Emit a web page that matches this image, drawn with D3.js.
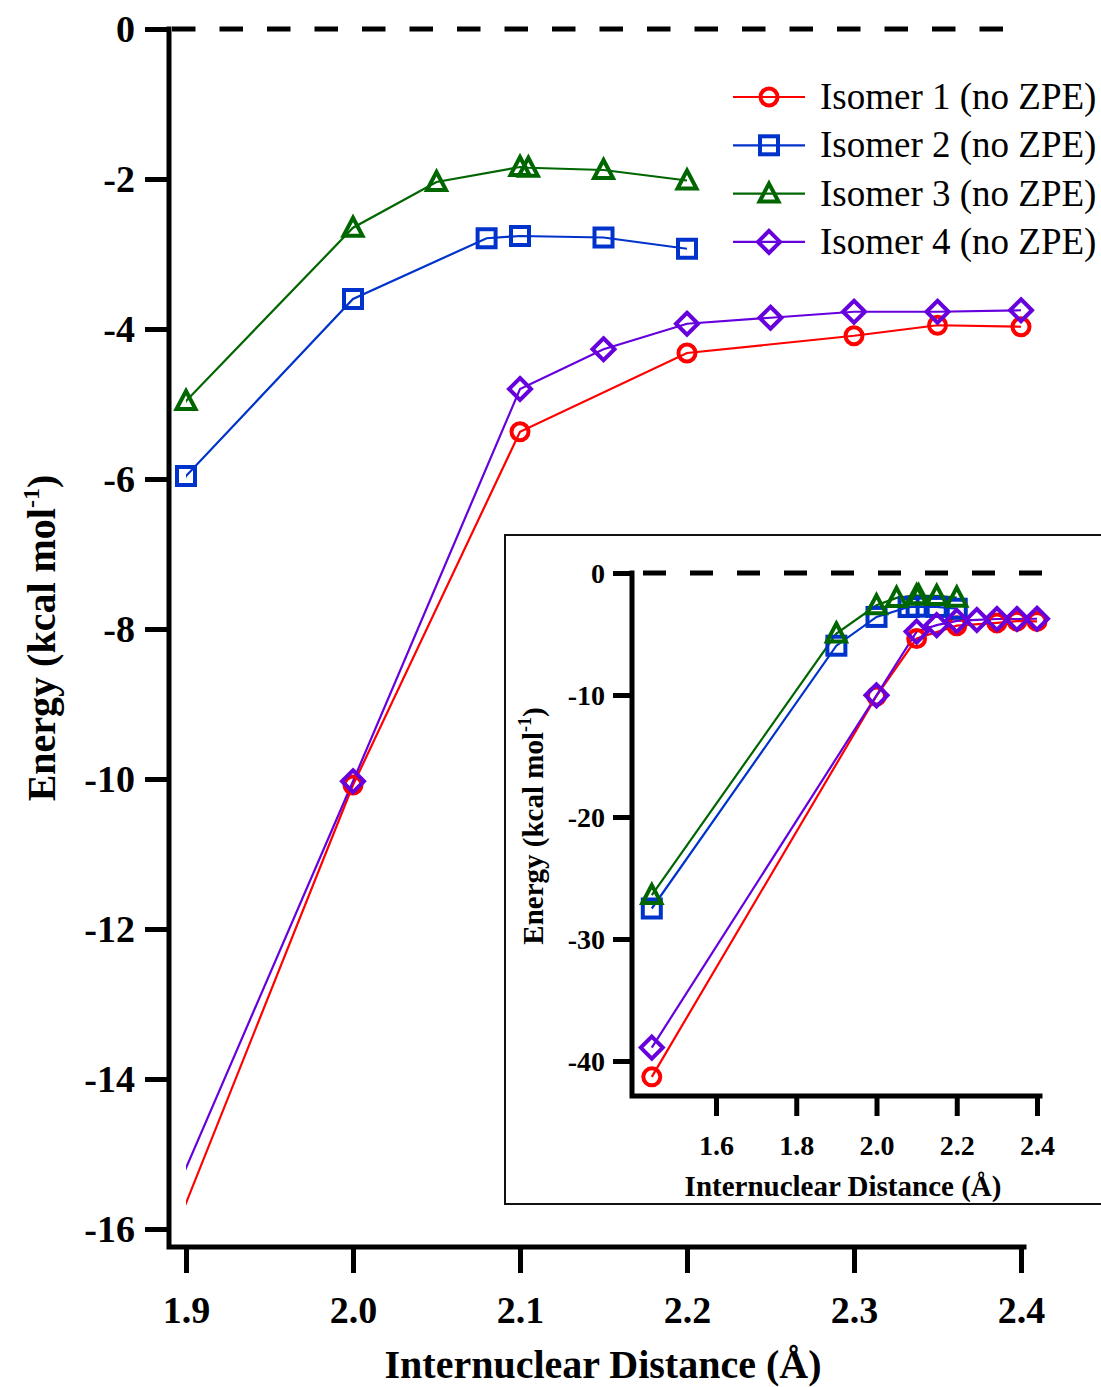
<html lang="en">
<head>
<meta charset="UTF-8">
<script src="https://cdn.jsdelivr.net/npm/d3@7"></script>
<style>
  body { margin: 0; background: #fff; }
  text { font-family: "Liberation Serif", "Times New Roman", serif; }
</style>
</head>
<body>
<svg id="viz"></svg>
<script>
// data (x in Angstrom, energy in kcal/mol)
var iso1X = [1.44, 2.0, 2.1, 2.2, 2.3, 2.35, 2.4];
var iso1E = [-41.3, -10.08, -5.37, -4.32, -4.09, -3.95, -3.97];
var iso2X = [1.44, 1.9, 2.0, 2.08, 2.1, 2.15, 2.2];
var iso2E = [-27.5, -5.96, -3.6, -2.79, -2.76, -2.78, -2.93];
var iso3X = [1.44, 1.9, 2.0, 2.05, 2.1, 2.105, 2.15, 2.2];
var iso3E = [-26.4, -4.96, -2.65, -2.04, -1.84, -1.85, -1.88, -2.02];
var iso4X = [1.44, 2.0, 2.1, 2.15, 2.2, 2.25, 2.3, 2.35, 2.4];
var iso4E = [-38.9, -10.03, -4.8, -4.27, -3.93, -3.85, -3.77, -3.77, -3.75];

var seriesNames = ["Isomer 1 (no ZPE)", "Isomer 2 (no ZPE)", "Isomer 3 (no ZPE)", "Isomer 4 (no ZPE)"];
var seriesColors = ["#ff0000", "#0033cc", "#006600", "#6600dd"];
var seriesShapes = ["circle", "square", "triangle", "diamond"];

var mainXTicks = [1.9, 2.0, 2.1, 2.2, 2.3, 2.4];
var mainYTicks = [0, -2, -4, -6, -8, -10, -12, -14, -16];
var insetXTicks = [1.6, 1.8, 2.0, 2.2, 2.4];
var insetYTicks = [0, -10, -20, -30, -40];

var series = [
  {name: seriesNames[0], color: seriesColors[0], shape: seriesShapes[0], pts: d3.zip(iso1X, iso1E)},
  {name: seriesNames[1], color: seriesColors[1], shape: seriesShapes[1], pts: d3.zip(iso2X, iso2E)},
  {name: seriesNames[2], color: seriesColors[2], shape: seriesShapes[2], pts: d3.zip(iso3X, iso3E)},
  {name: seriesNames[3], color: seriesColors[3], shape: seriesShapes[3], pts: d3.zip(iso4X, iso4E)}
];

// plain hyphen for negatives, like the original
function intFmt(d) { return String(d); }
var xFmt = d3.format(".1f");

var width = 1101, height = 1387;
var svg = d3.select("#viz").attr("width", width).attr("height", height);
svg.append("rect").attr("width", width).attr("height", height).attr("fill", "#fff");

function marker(sel, shape, color) {
  sel.each(function() {
    var g = d3.select(this);
    if (shape == "circle") {
      g.append("circle").attr("r", 8.5);
    } else if (shape == "square") {
      g.append("rect").attr("x", -9).attr("y", -9).attr("width", 18).attr("height", 18);
    } else if (shape == "triangle") {
      g.append("path").attr("d", "M0,-10L9.5,8L-9.5,8Z");
    } else {
      g.append("path").attr("d", "M0,-11L11,0L0,11L-11,0Z");
    }
    g.selectAll("*").attr("fill", "none").attr("stroke", color).attr("stroke-width", 4)
      .attr("stroke-linejoin", "miter");
  });
}

// ---------- main chart ----------
var x = d3.scaleLinear().domain([1.9, 2.4]).range([186, 1021]);
var y = d3.scaleLinear().domain([0, -16]).range([29, 1229]);

svg.append("clipPath").attr("id", "mainclip")
  .append("rect").attr("x", x(1.9)).attr("y", 0).attr("width", 900).attr("height", 1250);

// zero dashed line
svg.append("line")
  .attr("x1", 172).attr("x2", 1008).attr("y1", y(0)).attr("y2", y(0))
  .attr("stroke", "#000").attr("stroke-width", 5).attr("stroke-dasharray", "23.5,24");

var line = d3.line().x(function(d) { return x(d[0]); }).y(function(d) { return y(d[1]); });

series.forEach(function(s) {
  svg.append("path").datum(s.pts)
    .attr("d", line).attr("clip-path", "url(#mainclip)")
    .attr("fill", "none").attr("stroke", s.color).attr("stroke-width", 2.2);
});
series.forEach(function(s) {
  svg.append("g").selectAll("g")
    .data(s.pts.filter(function(d) { return d[0] >= 1.9; }))
    .enter().append("g")
    .attr("transform", function(d) { return "translate(" + x(d[0]) + "," + y(d[1]) + ")"; })
    .call(marker, s.shape, s.color);
});

// axes
var xAxis = svg.append("g").attr("transform", "translate(0,1247)")
  .call(d3.axisBottom(x).tickValues(mainXTicks).tickFormat(xFmt).tickSizeInner(26).tickSizeOuter(0).tickPadding(23));
var yAxis = svg.append("g").attr("transform", "translate(169,0)")
  .call(d3.axisLeft(y).tickValues(mainYTicks).tickFormat(intFmt).tickSizeInner(24).tickSizeOuter(0).tickPadding(10));
[xAxis, yAxis].forEach(function(a) {
  a.select(".domain").remove();
  a.selectAll(".tick line").attr("stroke", "#000").attr("stroke-width", 5);
  a.selectAll(".tick text").attr("fill", "#000").style("font-size", "38px").style("font-weight", "bold")
    .style("font-family", "'Liberation Serif', serif");
});
yAxis.selectAll(".tick text").attr("dy", "0.34em");
svg.append("path").attr("d", "M169,29V1247H1024")
  .attr("fill", "none").attr("stroke", "#000").attr("stroke-width", 5).attr("stroke-linecap", "square");

svg.append("text").attr("x", 603).attr("y", 1378).attr("text-anchor", "middle")
  .style("font-size", "40px").style("font-weight", "bold").text("Internuclear Distance (\u00c5)");
var yt = svg.append("text").attr("transform", "translate(55,638) rotate(-90)").attr("text-anchor", "middle")
  .style("font-size", "40px").style("font-weight", "bold");
yt.append("tspan").text("Energy (kcal mol");
yt.append("tspan").attr("dy", -16).style("font-size", "24px").text("-1");
yt.append("tspan").attr("dy", 16).text(")");

// legend
var legend = svg.append("g");
series.forEach(function(s, i) {
  var ly = 97 + i * 48.3;
  legend.append("line").attr("x1", 733).attr("x2", 805).attr("y1", ly).attr("y2", ly)
    .attr("stroke", s.color).attr("stroke-width", 2.2);
  legend.append("g").attr("transform", "translate(769," + ly + ")").call(marker, s.shape, s.color);
  legend.append("text").attr("x", 820).attr("y", ly + 12).style("font-size", "37px").text(s.name);
});

// ---------- inset ----------
var inset = svg.append("g");
inset.append("rect").attr("x", 505).attr("y", 535).attr("width", 620).attr("height", 669)
  .attr("fill", "#fff").attr("stroke", "#111").attr("stroke-width", 2);

var ix = d3.scaleLinear().domain([1.6, 2.4]).range([716, 1037]);
var iy = d3.scaleLinear().domain([0, -40]).range([573, 1061]);

inset.append("line")
  .attr("x1", 643).attr("x2", 1045).attr("y1", iy(0)).attr("y2", iy(0))
  .attr("stroke", "#000").attr("stroke-width", 5).attr("stroke-dasharray", "23,24");

var iline = d3.line().x(function(d) { return ix(d[0]); }).y(function(d) { return iy(d[1]); });
series.forEach(function(s) {
  inset.append("path").datum(s.pts).attr("d", iline)
    .attr("fill", "none").attr("stroke", s.color).attr("stroke-width", 2.2);
});
series.forEach(function(s) {
  inset.append("g").selectAll("g").data(s.pts).enter().append("g")
    .attr("transform", function(d) { return "translate(" + ix(d[0]) + "," + iy(d[1]) + ")"; })
    .call(marker, s.shape, s.color);
});

var ixAxis = inset.append("g").attr("transform", "translate(0,1096)")
  .call(d3.axisBottom(ix).tickValues(insetXTicks).tickFormat(xFmt).tickSizeInner(20).tickSizeOuter(0).tickPadding(19));
var iyAxis = inset.append("g").attr("transform", "translate(632,0)")
  .call(d3.axisLeft(iy).tickValues(insetYTicks).tickFormat(intFmt).tickSizeInner(19).tickSizeOuter(0).tickPadding(8));
[ixAxis, iyAxis].forEach(function(a) {
  a.select(".domain").remove();
  a.selectAll(".tick line").attr("stroke", "#000").attr("stroke-width", 5);
  a.selectAll(".tick text").attr("fill", "#000").style("font-size", "28px").style("font-weight", "bold")
    .style("font-family", "'Liberation Serif', serif");
});
iyAxis.selectAll(".tick text").attr("dy", "0.34em");
inset.append("path").attr("d", "M632,573V1096H1040")
  .attr("fill", "none").attr("stroke", "#000").attr("stroke-width", 5).attr("stroke-linecap", "square");

inset.append("text").attr("x", 843).attr("y", 1196).attr("text-anchor", "middle")
  .style("font-size", "29px").style("font-weight", "bold").text("Internuclear Distance (\u00c5)");
var iyt = inset.append("text").attr("transform", "translate(543,826) rotate(-90)").attr("text-anchor", "middle")
  .style("font-size", "29px").style("font-weight", "bold");
iyt.append("tspan").text("Energy (kcal mol");
iyt.append("tspan").attr("dy", -12).style("font-size", "18px").text("-1");
iyt.append("tspan").attr("dy", 12).text(")");
</script>
</body>
</html>
